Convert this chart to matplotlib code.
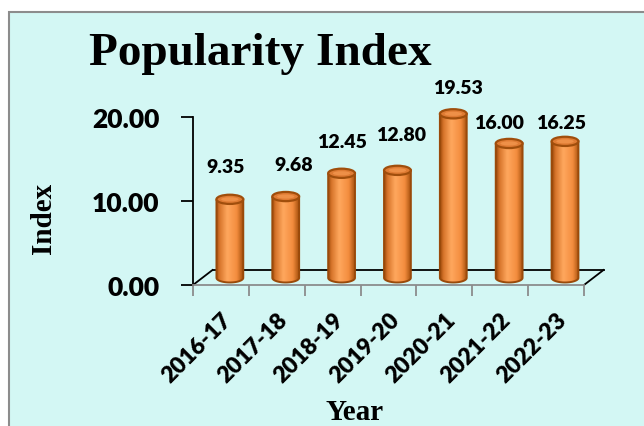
import numpy as np
import matplotlib
matplotlib.use('Agg')
from matplotlib import pyplot as plt
from matplotlib.patches import Rectangle, Ellipse, PathPatch
from matplotlib.path import Path
from matplotlib.colors import LinearSegmentedColormap

plt.rcParams['font.family'] = ['Lato', 'DejaVu Sans']
plt.rcParams['font.weight'] = 'heavy'

years = ['2016-17', '2017-18', '2018-19', '2019-20', '2020-21', '2021-22', '2022-23']
index_values = [9.35, 9.68, 12.45, 12.80, 19.53, 16.00, 16.25]
y_ticks = [0, 10, 20]

# label shift from the top of each cylinder, in pixels (dx, dy)
label_shift = [(-4, 33), (8, 32), (0, 32), (4, 36), (5, 26), (-10, 21), (-4, 19)]

W, H = 644, 427
fig = plt.figure(figsize=(W / 100, H / 100), dpi=100)
fig.patch.set_facecolor('white')
fig.add_artist(Rectangle((9 / W, -0.05), 1.0, (H - 12.5) / H + 0.05,
                         transform=fig.transFigure, facecolor='#d3f7f4',
                         edgecolor='#8c8c8c', lw=1.5, zorder=0))

ax = fig.add_axes([193 / W, 141 / H, 391 / W, (286 - 101.2) / H])
ax.patch.set_visible(False)

# 3d look: depth of the floor and position of the bars inside it
dx_back, dy_back = 0.35, 1.79
dx_bar, dy_bar = 0.16, 0.85
half_w, half_h = 0.24, 0.55

cmap = LinearSegmentedColormap.from_list('cyl', [
    (0.0, '#9a480a'), (0.12, '#d6742a'), (0.42, '#ffa85e'),
    (0.78, '#f38c3e'), (1.0, '#a8520e')])
grad = np.linspace(0, 1, 64).reshape(1, -1)

# floor
ax.plot([-0.5, -0.5 + dx_back], [0, dy_back], color='black', lw=1.3, zorder=1)
ax.plot([6.5, 6.5 + dx_back], [0, dy_back], color='black', lw=1.3, zorder=1, clip_on=False)
ax.plot([-0.5 + dx_back, 6.5 + dx_back], [dy_back, dy_back], color='black', lw=1.3,
        zorder=1, clip_on=False)

for i, v in enumerate(index_values):
    cx = i + dx_bar
    base = dy_bar
    top = v + dy_bar
    t = np.linspace(np.pi, 2 * np.pi, 40)
    verts = [(cx - half_w, top)]
    verts += list(zip(cx + half_w * np.cos(t), base + half_h * np.sin(t)))
    verts += [(cx + half_w, top), (cx - half_w, top)]
    body = PathPatch(Path(verts), facecolor='none', edgecolor='#9a4a0a', lw=1.4, zorder=3)
    ax.add_patch(body)
    im = ax.imshow(grad, cmap=cmap, extent=[cx - half_w, cx + half_w, base - half_h, top],
                   aspect='auto', zorder=2, interpolation='bicubic')
    im.set_clip_path(body)
    ax.add_patch(Ellipse((cx, top), 2 * half_w, 2 * half_h, facecolor='#df7b33',
                         edgecolor='#a04e0c', lw=1.6, zorder=4))
    ax.add_patch(Ellipse((cx, top), 1.3 * half_w, 0.9 * half_h, facecolor='#ee9048',
                         edgecolor='none', zorder=5))
    sx, sy = label_shift[i]
    ax.annotate(f'{v:.2f}', xy=(cx, top), xytext=(sx * 0.72, sy * 0.72),
                textcoords='offset points', ha='center', va='center',
                fontsize=14)

ax.set_xlim(-0.5, 6.5)
ax.set_ylim(0, 22)

for s in ['top', 'right']:
    ax.spines[s].set_visible(False)
ax.spines['left'].set_bounds(0, 20)
ax.spines['left'].set_linewidth(1.3)
ax.spines['bottom'].set_color('#8c8c8c')
ax.spines['bottom'].set_linewidth(1.3)

ax.set_yticks(y_ticks)
ax.set_yticklabels([f'{v:.2f}' for v in y_ticks])
ax.tick_params(axis='y', length=9, width=1.3, pad=15, labelsize=19)

ax.set_xticks(np.arange(-0.5, 7, 1))
ax.set_xticklabels([])
ax.tick_params(axis='x', which='major', length=8, width=1.3, color='#8c8c8c')
ax.set_xticks(range(len(years)), minor=True)
ax.set_xticklabels(years, minor=True, rotation=45, ha='right', va='top',
                   rotation_mode='anchor')
ax.tick_params(axis='x', which='minor', length=0, pad=17, labelsize=16.5)

serif = 'Liberation Serif'
fig.text(260 / W, 1 - 65 / H, 'Popularity Index', ha='center', va='baseline',
         family=serif, fontweight='bold', fontsize=34)
fig.text(43 / W, 1 - 218 / H, 'Index', rotation=90, ha='center', va='center',
         family=serif, fontweight='bold', fontsize=21)
fig.text(355 / W, 1 - 413 / H, 'Year', ha='center', va='center',
         family=serif, fontweight='bold', fontsize=21)

fig.savefig('out.png', dpi=100)
